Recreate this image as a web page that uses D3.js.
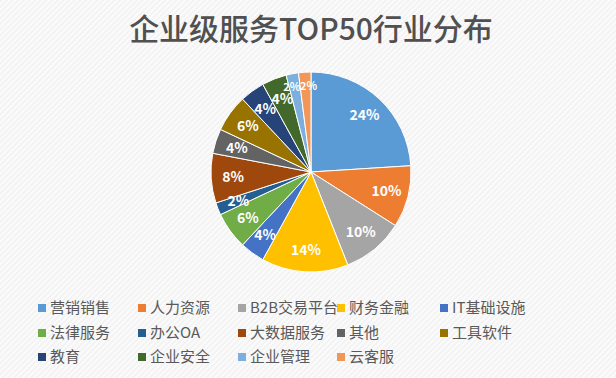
<!DOCTYPE html>
<html>
<head>
<meta charset="utf-8">
<script src="https://cdn.jsdelivr.net/npm/d3@7"></script>
<style>
  body { margin: 0; background: #fff; }
  text { font-family: "Noto Sans CJK SC", "Open Sans", sans-serif; }
</style>
</head>
<body>
<svg class="chart"></svg>
<script>
const categories = ['营销销售', '人力资源', 'B2B交易平台', '财务金融', 'IT基础设施', '法律服务', '办公OA',
                    '大数据服务', '其他', '工具软件', '教育', '企业安全', '企业管理', '云客服']
const values = [24, 10, 10, 14, 4, 6, 2, 8, 4, 6, 4, 4, 2, 2]
const colors = ['#5B9BD5', '#ED7D31', '#A5A5A5', '#FFC000', '#4472C4', '#70AD47', '#255E91',
                '#9E480E', '#636363', '#997300', '#264478', '#43682B', '#7CAFDD', '#F1975A']

function chart(){
    const svg = d3.select('.chart')
      .attr('width', 616)
      .attr('height', 378)
    const width = +svg.attr('width')
    const height = +svg.attr('height')

    // faint diagonal texture in the background
    const pat = svg.append('defs').append('pattern')
      .attr('id', 'bg')
      .attr('width', 4).attr('height', 4)
      .attr('patternUnits', 'userSpaceOnUse')
      .attr('patternTransform', 'rotate(45)')
    pat.append('rect').attr('width', 4).attr('height', 4).attr('fill', '#fbfbfb')
    pat.append('rect').attr('width', 2).attr('height', 4).attr('fill', '#f3f3f3')
    svg.append('rect').attr('width', width).attr('height', height).attr('fill', 'url(#bg)')

    // title
    svg.append('text')
      .attr('x', 311).attr('y', 40)
      .attr('text-anchor', 'middle')
      .attr('font-size', 30)
      .attr('font-weight', 500)
      .attr('fill', '#505050')
      .text('企业级服务TOP50行业分布')

    // pie
    const cx = 311, cy = 172, r = 100
    const data = categories.map((c, i) => ({name: c, value: values[i], color: colors[i]}))
    const pie = d3.pie().sort(null).value(d => d.value)
    const arc = d3.arc().innerRadius(0).outerRadius(r)
    const labelArc = d3.arc().innerRadius(78).outerRadius(78)

    const g = svg.append('g').attr('transform', `translate(${cx}, ${cy})`)
    const arcs = pie(data)

    g.selectAll('path')
      .data(arcs)
      .enter()
      .append('path')
      .attr('d', arc)
      .attr('fill', d => d.data.color)
      .attr('stroke', '#fff')
      .attr('stroke-width', 1)

    // the two thin slices at the top get a smaller label so they don't collide
    g.selectAll('.lbl')
      .data(arcs)
      .enter()
      .append('text')
      .attr('class', 'lbl')
      .attr('transform', d => {
          const small = d.index >= 12
          const c = d3.arc().innerRadius(small ? 86 : 78).outerRadius(small ? 86 : 78).centroid(d)
          if (small) c[0] += d.index == 12 ? -3 : 3
          return `translate(${c})`
      })
      .attr('text-anchor', 'middle')
      .attr('dy', '0.35em')
      .attr('font-size', d => d.index >= 12 ? 11 : 14)
      .attr('font-weight', 'bold')
      .attr('fill', '#fff')
      .text(d => d.data.value + '%')

    // legend, 5 columns
    const colX = [38, 138, 238, 337, 440]
    const rowY = [308, 333, 357]
    const lg = svg.append('g')
    const item = lg.selectAll('g')
      .data(data)
      .enter()
      .append('g')
      .attr('transform', (d, i) => `translate(${colX[i % 5]}, ${rowY[Math.floor(i / 5)]})`)
    item.append('rect')
      .attr('x', 0).attr('y', -4)
      .attr('width', 8).attr('height', 8)
      .attr('fill', d => d.color)
    item.append('text')
      .attr('x', 12)
      .attr('dy', '0.35em')
      .attr('font-size', 15)
      .attr('fill', '#595959')
      .text(d => d.name)
}
chart()
</script>
</body>
</html>
